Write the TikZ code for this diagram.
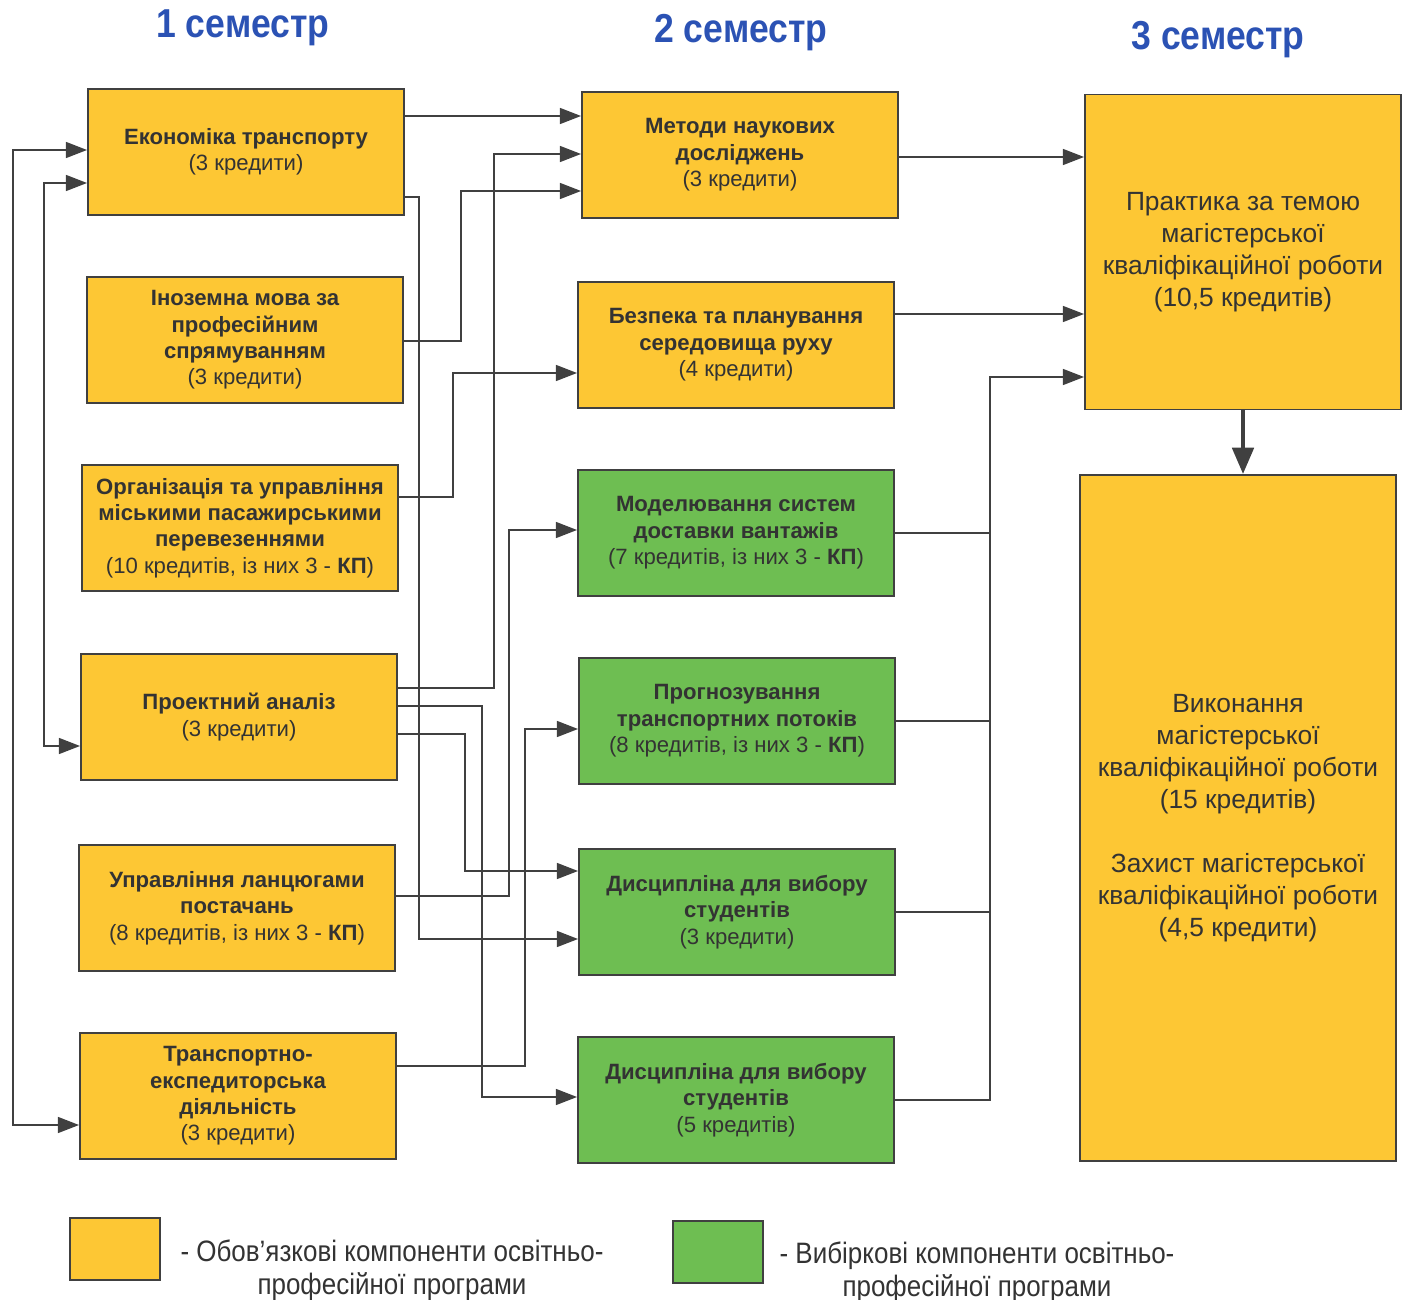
\documentclass[tikz,border=0pt]{standalone}
\usepackage{fontspec}
\setmainfont{Liberation Sans}
\newfontfamily\narrowfont[FakeStretch=0.88]{Liberation Sans}
\usetikzlibrary{arrows.meta}

\definecolor{mandatory}{RGB}{253,199,52}
\definecolor{elective}{RGB}{110,190,82}
\definecolor{edgegray}{RGB}{64,64,64}
\definecolor{textgray}{RGB}{51,51,51}
\definecolor{headblue}{RGB}{43,82,180}

\tikzset{
    course/.style={draw=edgegray, line width=1.1pt, fill=mandatory,
        minimum width=6.32cm, minimum height=2.52cm, inner sep=2pt,
        align=center, text=textgray,
        font=\bfseries\fontsize{12.6}{15}\selectfont},
    option/.style={course, fill=elective},
    bigcourse/.style={course, font=\fontsize{15}{18.2}\selectfont},
    head/.style={text=headblue, anchor=base,
        font=\narrowfont\bfseries\fontsize{23}{26}\selectfont},
    key/.style={draw=edgegray, line width=1.1pt, minimum width=1.8cm,
        minimum height=1.24cm, inner sep=0pt},
    keytext/.style={align=center, text=textgray,
        font=\narrowfont\fontsize{16.8}{18.7}\selectfont},
    link/.style={draw=edgegray, line width=1.1pt}
}

\begin{document}
\begin{tikzpicture}[x=0.02cm, y=-0.02cm,
        >={Triangle[length=12pt,width=9pt]}]
    \useasboundingbox (0,0) rectangle (1406,1300);

    \node[head] (sem1) at (243,38) {1 семестр};
    \node[head] (sem2) at (741,43) {2 семестр};
    \node[head] (sem3) at (1218,50) {3 семестр};

    % 1 семестр
    \node[course] (econ) at (246,152)
        {Економіка транспорту\\\mdseries(3 кредити)};
    \node[course] (lang) at (245,340)
        {Іноземна мова за\\професійним\\спрямуванням\\\mdseries(3 кредити)};
    \node[course] (org) at (240,528)
        {Організація та управління\\міськими пасажирськими\\перевезеннями\\\mdseries(10 кредитів, із них 3 - \textbf{КП})};
    \node[course] (proj) at (239,717)
        {Проектний аналіз\\\mdseries(3 кредити)};
    \node[course] (supply) at (237,908)
        {Управління ланцюгами\\постачань\\\mdseries(8 кредитів, із них 3 - \textbf{КП})};
    \node[course] (forward) at (238,1096)
        {Транспортно-\\експедиторська\\діяльність\\\mdseries(3 кредити)};

    % 2 семестр
    \node[course] (methods) at (740,155)
        {Методи наукових\\досліджень\\\mdseries(3 кредити)};
    \node[course] (safety) at (736,345)
        {Безпека та планування\\середовища руху\\\mdseries(4 кредити)};
    \node[option] (model) at (736,533)
        {Моделювання систем\\доставки вантажів\\\mdseries(7 кредитів, із них 3 - \textbf{КП})};
    \node[option] (forecast) at (737,721)
        {Прогнозування\\транспортних потоків\\\mdseries(8 кредитів, із них 3 - \textbf{КП})};
    \node[option] (elect3) at (737,912)
        {Дисципліна для вибору\\студентів\\\mdseries(3 кредити)};
    \node[option] (elect5) at (736,1100)
        {Дисципліна для вибору\\студентів\\\mdseries(5 кредитів)};

    % 3 семестр
    \node[bigcourse, minimum height=6.3cm] (practice) at (1243,252)
        {Практика за темою\\магістерської\\кваліфікаційної роботи\\(10,5 кредитів)};
    \node[bigcourse, minimum height=13.72cm] (thesis) at (1238,818)
        {Виконання\\магістерської\\кваліфікаційної роботи\\(15 кредитів)\\[18pt]Захист магістерської\\кваліфікаційної роботи\\(4,5 кредити)};

    % legend
    \node[key, fill=mandatory] (keymand) at (115,1249) {};
    \node[keytext] (keymandtext) at (392,1270)
        {- Обов’язкові компоненти освітньо-\\професійної програми};
    \node[key, fill=elective] (keyopt) at (718,1252) {};
    \node[keytext] (keyopttext) at (977,1272)
        {- Вибіркові компоненти освітньо-\\професійної програми};

    % links 1 -> 2
    \draw[link,->] (econ.east |- 0,116) -- (methods.west |- 0,116);
    \draw[link,->] (econ.east |- 0,197) -- (419,197) |- (elect3.west |- 0,939);
    \draw[link,->] (lang.east |- 0,341) -- (461,341) |- (methods.west |- 0,191);
    \draw[link,->] (org.east |- 0,497) -- (453,497) |- (safety.west |- 0,373);
    \draw[link,->] (proj.east |- 0,688) -- (494,688) |- (methods.west |- 0,154);
    \draw[link,->] (proj.east |- 0,706) -- (482,706) |- (elect5.west |- 0,1097);
    \draw[link,->] (proj.east |- 0,734) -- (465,734) |- (elect3.west |- 0,871);
    \draw[link,->] (supply.east |- 0,896) -- (509,896) |- (model.west |- 0,530);
    \draw[link,->] (forward.east |- 0,1066) -- (525,1066) |- (forecast.west |- 0,729);

    % links inside 1 семестр
    \draw[link,<->] (econ.west |- 0,150) -- (13,150) |- (forward.west |- 0,1125);
    \draw[link,<->] (econ.west |- 0,183) -- (44,183) |- (proj.west |- 0,746);

    % links 2 -> 3
    \draw[link,->] (methods.east |- 0,157) -- (practice.west |- 0,157);
    \draw[link,->] (safety.east |- 0,314) -- (practice.west |- 0,314);
    \coordinate (bus) at (990,377);
    \foreach \n in {model,forecast,elect3}{
        \draw[link] (\n.east) -- (\n.east -| bus);
    }
    \draw[link,->] (elect5.east) -- (elect5.east -| bus) -- (bus) -- (practice.west |- bus);
    \draw[link, line width=2.6pt, -{Triangle[length=15pt,width=12pt]}]
        (practice.south) -- (practice.south |- thesis.north);
\end{tikzpicture}
\end{document}
